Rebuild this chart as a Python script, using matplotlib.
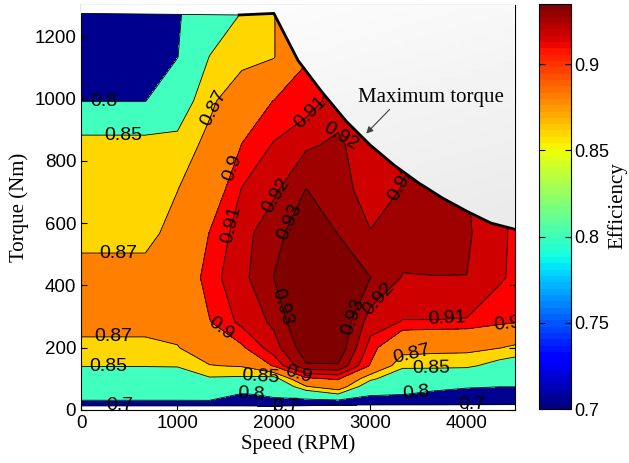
import numpy as np
import matplotlib
matplotlib.use('Agg')
import matplotlib.pyplot as plt
from matplotlib.patches import Polygon
from matplotlib.colors import Normalize

plt.rcParams['font.family'] = ['Liberation Sans', 'DejaVu Sans']

# grid of the efficiency map
speed = [0, 333, 667, 1000, 1333, 1667, 2000, 2333, 2667, 3000, 3333, 3667, 4000, 4333, 4500]
torque = [0, 15, 30, 50, 75, 100, 142, 200, 283, 425, 567, 708, 850, 992, 1133, 1275, 1300]

# one row per torque value, one column per speed value
eff = [
    [0.600, 0.600, 0.600, 0.600, 0.600, 0.600, 0.600, 0.600, 0.600, 0.600, 0.600, 0.600, 0.600, 0.600, 0.600],
    [0.715, 0.715, 0.715, 0.715, 0.715, 0.715, 0.720, 0.710, 0.695, 0.695, 0.695, 0.695, 0.695, 0.695, 0.695],
    [0.799, 0.799, 0.799, 0.799, 0.799, 0.780, 0.795, 0.790, 0.795, 0.760, 0.750, 0.750, 0.740, 0.730, 0.730],
    [0.815, 0.815, 0.815, 0.815, 0.820, 0.797, 0.805, 0.830, 0.848, 0.810, 0.801, 0.790, 0.775, 0.765, 0.762],
    [0.825, 0.825, 0.825, 0.830, 0.835, 0.830, 0.820, 0.868, 0.885, 0.830, 0.815, 0.812, 0.806, 0.801, 0.801],
    [0.835, 0.835, 0.835, 0.840, 0.847, 0.845, 0.840, 0.897, 0.902, 0.855, 0.830, 0.828, 0.820, 0.815, 0.812],
    [0.851, 0.851, 0.851, 0.851, 0.869, 0.872, 0.902, 0.929, 0.929, 0.899, 0.855, 0.855, 0.855, 0.840, 0.835],
    [0.865, 0.865, 0.865, 0.869, 0.885, 0.898, 0.916, 0.936, 0.938, 0.906, 0.880, 0.877, 0.876, 0.871, 0.866],
    [0.877, 0.877, 0.877, 0.878, 0.8995, 0.913, 0.922, 0.942, 0.940, 0.915, 0.9095, 0.9095, 0.909, 0.9035, 0.9015],
    [0.880, 0.880, 0.880, 0.885, 0.906, 0.917, 0.9302, 0.940, 0.935, 0.9302, 0.9195, 0.9199, 0.9199, 0.9115, 0.908],
    [0.862, 0.862, 0.862, 0.880, 0.9005, 0.916, 0.927, 0.936, 0.9298, 0.9205, 0.924, 0.922, 0.9215, 0.9125, 0.908],
    [0.864, 0.864, 0.864, 0.8695, 0.890, 0.9105, 0.918, 0.9302, 0.9245, 0.915, 0.9205, 0.922, 0.9205, 0.912, 0.908],
    [0.865, 0.865, 0.865, 0.857, 0.877, 0.9005, 0.911, 0.9185, 0.922, 0.913, 0.918, 0.921, 0.9205, 0.912, 0.908],
    [0.799, 0.799, 0.799, 0.835, 0.865, 0.888, 0.9005, 0.905, 0.915, 0.911, 0.918, 0.921, 0.9205, 0.912, 0.908],
    [0.760, 0.760, 0.760, 0.799, 0.851, 0.862, 0.869, 0.899, 0.912, 0.911, 0.918, 0.921, 0.9205, 0.912, 0.908],
    [0.750, 0.750, 0.750, 0.797, 0.820, 0.851, 0.869, 0.900, 0.911, 0.911, 0.918, 0.921, 0.9205, 0.912, 0.908],
    [0.750, 0.750, 0.750, 0.797, 0.820, 0.851, 0.869, 0.900, 0.911, 0.911, 0.918, 0.921, 0.9205, 0.912, 0.908],
]

levels = [0.7, 0.8, 0.85, 0.87, 0.9, 0.91, 0.92, 0.93]

# maximum torque envelope
curve_speed = [1640, 2000, 2250, 2500, 2750, 3000, 3250, 3500, 3750, 4000, 4250, 4500]
curve_torque = [1268, 1273, 1122, 1020, 927, 850, 785, 729, 680, 638, 600, 580]

fill_colors = ['white', '#00008F', '#40FFBF', '#FFD700', '#FF8000',
               '#FF0000', '#CF0000', '#9F0000', '#800000']

fig = plt.figure(figsize=(6.29, 4.63), dpi=100)
ax = fig.add_axes([0.1288, 0.1145, 0.690, 0.8747])

E = np.array(eff)
ax.contourf(speed, torque, E, levels=[0.5] + levels + [1.0], colors=fill_colors, zorder=1)

label_pos = {
    0.7: [(406, 13), (2125, 13), (4052, 14)],
    0.8: [(240, 995), (1760, 45), (3479, 55)],
    0.85: [(437, 885), (281, 141), (1865, 112), (3635, 130)],
    0.87: [(1448, 960), (385, 498), (333, 234), (3427, 180)],
    0.9: [(1552, 780), (1448, 260), (2281, 135), (4420, 275)],
    0.91: [(1656, 588), (2437, 939), (3792, 289)],
    0.92: [(2042, 685), (2700, 880), (3300, 730), (3146, 338)],
    0.93: [(2200, 600), (2100, 331), (2854, 296)],
}
for lev in levels:
    cs = ax.contour(speed, torque, E, levels=[lev], colors='k', linewidths=0.6, zorder=2)
    ax.clabel(cs, manual=label_pos[lev], inline=False, fontsize=14, fmt='%g')

# light gradient above the maximum torque line
verts = [(0, 1273)] + list(zip(curve_speed, curve_torque)) + [(4500, 1300), (0, 1300)]
clip = Polygon(verts, closed=True, transform=ax.transData, facecolor='none', edgecolor='none')
ax.add_patch(clip)
yy, xx = np.mgrid[0:1:100j, 0:1:100j]
grad = 1 - 0.1 * (1 - yy) - 0.03 * xx
im = ax.imshow(grad, extent=[0, 4500, 0, 1300], origin='lower', aspect='auto',
               cmap='gray', vmin=0, vmax=1, zorder=4)
im.set_clip_path(clip)
ax.plot([0, 1640], [1273, 1268], color='k', lw=0.6, zorder=5)
ax.plot(curve_speed, curve_torque, color='k', lw=2, zorder=5)

ax.text(2875, 1003, 'Maximum torque', family='Liberation Serif', fontsize=15,
        ha='left', va='center', zorder=6)
ax.annotate('', xy=(2937, 881), xytext=(3219, 971),
            arrowprops=dict(arrowstyle='-|>', color='#404040', lw=0.8, mutation_scale=10),
            zorder=6)

ax.set_xlim(0, 4500)
ax.set_ylim(0, 1300)
ax.set_xticks([0, 1000, 2000, 3000, 4000])
ax.set_yticks([0, 200, 400, 600, 800, 1000, 1200])
ax.tick_params(direction='in', top=True, right=True, labelsize=13.5, length=4)
ax.set_xlabel('Speed (RPM)', family='Liberation Serif', fontsize=15, labelpad=2)
ax.set_ylabel('Torque (Nm)', family='Liberation Serif', fontsize=15, labelpad=4)

cax = fig.add_axes([0.857, 0.1166, 0.051, 0.875])
sm = plt.cm.ScalarMappable(norm=Normalize(0.7, 0.935), cmap=plt.get_cmap('jet', 64))
cb = fig.colorbar(sm, cax=cax, ticks=[0.7, 0.75, 0.8, 0.85, 0.9])
cb.set_ticklabels(['0.7', '0.75', '0.8', '0.85', '0.9'])
cb.ax.tick_params(direction='in', left=True, right=True, labelsize=13, length=4, pad=2)
fig.text(617 / 629, 1 - 206 / 463, 'Efficiency', rotation=90, ha='center', va='center',
         family='Liberation Serif', fontsize=15)

fig.savefig('out.png', dpi=100)
